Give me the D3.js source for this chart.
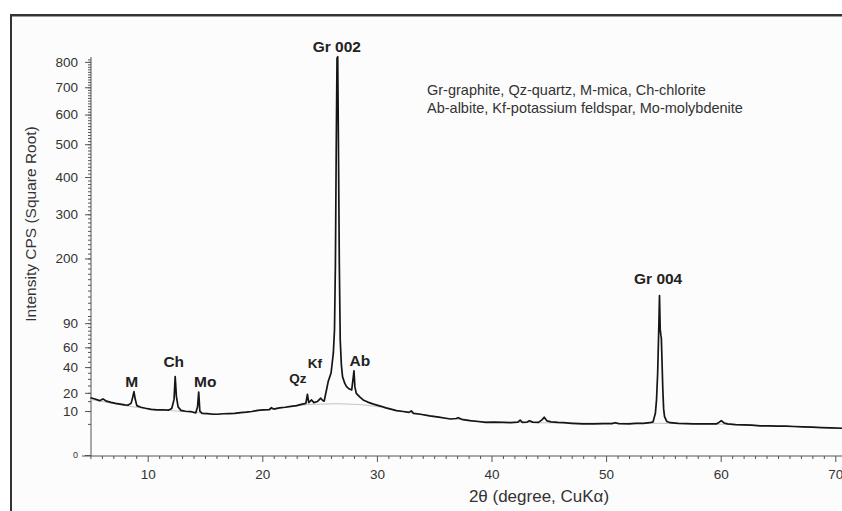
<!DOCTYPE html>
<html>
<head>
<meta charset="utf-8">
<script src="https://cdn.jsdelivr.net/npm/d3@7"></script>
<style>
body { margin: 0; background: #fff; overflow: hidden; }
svg { display: block; font-family: "Liberation Sans", Arial, sans-serif; }
</style>
</head>
<body>
<div id="chart"></div>
<script>
// XRD pattern: [2-theta, intensity CPS]
const pattern = [
    [5.0, 17.0], [5.4, 16.2], [5.8, 15.3], [6.1, 16.3], [6.4, 15.0], [6.8, 14.3],
    [7.2, 13.8], [7.6, 13.4], [8.0, 13.0], [8.3, 12.9], [8.55, 13.8], [8.7, 17.5],
    [8.8, 20.8], [8.9, 16.5], [9.05, 12.6], [9.4, 11.8], [9.8, 11.3], [10.3, 10.8],
    [10.8, 10.5], [11.3, 10.6], [11.8, 10.4], [12.1, 11.2], [12.3, 16], [12.4, 31.8],
    [12.5, 18], [12.65, 12], [12.9, 10.3], [13.3, 9.9], [13.8, 9.7], [14.2, 9.2],
    [14.35, 12], [14.45, 20.5], [14.55, 10], [14.75, 9.0], [15.2, 8.9], [15.7, 8.6],
    [16.1, 8.6], [16.6, 8.8], [17.1, 8.9], [17.6, 9.0], [18.1, 9.3], [18.6, 9.5],
    [19.1, 9.8], [19.6, 10.3], [20.1, 10.5], [20.6, 10.6], [20.8, 11.6], [21.0, 10.9],
    [21.5, 11.5], [22.0, 11.8], [22.5, 12.2], [23.0, 12.6], [23.4, 13.3], [23.8, 13.8],
    [23.94, 19.1], [24.05, 14.2], [24.3, 15.7], [24.5, 14.2], [24.8, 14.8], [25.1, 16.7],
    [25.25, 15.5], [25.4, 15.0], [25.6, 21.9], [25.75, 27.9], [26.0, 34.8], [26.2, 53.9],
    [26.3, 81], [26.38, 190], [26.45, 480], [26.52, 815], [26.58, 821], [26.65, 470],
    [26.72, 190], [26.8, 68.5], [26.9, 42], [27.0, 31.8], [27.2, 26.5], [27.35, 24.2],
    [27.6, 22.5], [27.8, 21.9], [27.92, 30], [28.0, 36.6], [28.08, 24], [28.2, 19.7],
    [28.5, 17.5], [28.8, 15.7], [29.2, 14.5], [29.7, 13.4], [30.3, 12.4], [30.8, 11.5],
    [31.3, 10.8], [31.7, 10.2], [32.3, 9.8], [32.8, 9.4], [33.0, 10.1], [33.2, 9.0],
    [33.8, 8.6], [34.6, 7.9], [35.4, 7.4], [36.0, 7.0], [36.4, 6.7], [36.9, 6.9],
    [37.1, 7.2], [37.4, 6.6], [38.1, 6.1], [38.8, 5.8], [39.5, 5.5], [40.2, 5.6],
    [41.0, 5.5], [41.7, 5.4], [42.3, 5.6], [42.5, 6.3], [42.7, 5.5], [43.1, 5.6],
    [43.3, 6.1], [43.6, 5.6], [44.1, 5.5], [44.4, 6.4], [44.6, 7.4], [44.85, 6.0],
    [45.2, 5.7], [45.8, 5.5], [46.3, 5.4], [47.0, 5.2], [48.0, 5.0], [48.9, 5.0],
    [49.8, 5.1], [50.5, 5.1], [50.8, 5.4], [51.1, 5.1], [52.0, 5.0], [52.6, 5.2],
    [53.25, 5.2], [53.8, 5.4], [54.1, 5.7], [54.3, 9], [54.4, 15.7], [54.5, 35],
    [54.6, 85], [54.66, 131.6], [54.72, 82], [54.78, 74], [54.82, 71], [54.88, 45],
    [54.95, 22], [55.02, 11], [55.1, 7.6], [55.3, 5.8], [55.6, 5.4], [56.3, 5.2],
    [57.0, 5.1], [57.6, 5.0], [58.3, 5.0], [59.0, 5.0], [59.6, 5.0], [59.85, 5.5],
    [60.05, 6.1], [60.3, 5.3], [60.6, 5.0], [61.3, 4.8], [62.0, 4.7], [62.7, 4.6],
    [63.45, 4.4], [64.2, 4.4], [65.0, 4.3], [65.7, 4.3], [66.4, 4.2], [67.2, 4.1],
    [68.0, 4.0], [68.8, 3.9], [69.6, 3.8], [70.6, 3.7]
];

// fitted background (thin grey line under the peaks)
const background = [
    [5.0, 16.0], [8.0, 12.6], [10.0, 11.0], [12.0, 10.2], [14.0, 9.4], [16.0, 8.7],
    [18.0, 9.2], [20.0, 10.4], [22.0, 11.8], [24.0, 13.2], [26.5, 13.6], [28.5, 13.2],
    [30.0, 12.2], [32.0, 10.0], [34.0, 8.5], [36.0, 7.0], [40.0, 5.6], [46.0, 5.3],
    [54.7, 5.2], [60.0, 4.9], [70.6, 3.7]
];

const yTickValues = [0, 10, 20, 40, 60, 90, 200, 300, 400, 500, 600, 700, 800];
const yMinorValues = d3.range(5, 100, 5).concat(d3.range(100, 811, 10));
const xTickValues = [10, 20, 30, 40, 50, 60, 70];
const xMinorValues = d3.range(5, 72, 1).filter(d => d % 10 !== 0);

const peakLabels = [
    { text: 'M', at: 8.6, level: 23.6, small: false },
    { text: 'Ch', at: 12.27, level: 39.7, small: false },
    { text: 'Mo', at: 15.02, level: 23.6, small: false },
    { text: 'Qz', at: 23.1, level: 26.9, small: true },
    { text: 'Kf', at: 24.58, level: 39.2, small: true },
    { text: 'Ab', at: 28.52, level: 41.1, small: false },
    { text: 'Gr 002', at: 26.5, level: 840, small: false },
    { text: 'Gr 004', at: 54.54, level: 152, small: false }
];

const legendLines = [
    'Gr-graphite, Qz-quartz, M-mica, Ch-chlorite',
    'Ab-albite, Kf-potassium feldspar, Mo-molybdenite'
];

// Layout
const width = 842, height = 511;

const svg = d3.select('#chart')
    .append('svg')
    .attr('width', width)
    .attr('height', height);

// Frame (runs off the right and bottom edges)
svg.append('rect')
    .attr('x', 11).attr('y', 15)
    .attr('width', 900).attr('height', 600)
    .attr('fill', '#fcfcfc')
    .attr('stroke', '#333')
    .attr('stroke-width', 2);
svg.append('line')
    .attr('x1', 12).attr('x2', 842)
    .attr('y1', 16.5).attr('y2', 16.5)
    .attr('stroke', '#999').attr('stroke-width', 1);

// Scales
const x = d3.scaleLinear().domain([5, 70]).range([90.4, 835.3]);
const y = d3.scaleSqrt().domain([0, 820]).range([455, 57]);

const axisColor = '#555';
const textColor = '#333';

// Y axis
const yAxisG = svg.append('g').attr('transform', 'translate(91,0)');
yAxisG.append('g')
    .call(d3.axisLeft(y).tickValues(yMinorValues).tickSize(3).tickFormat(''))
    .call(g => g.select('.domain').remove());
yAxisG.append('g')
    .call(d3.axisLeft(y).tickValues(yTickValues).tickSize(6).tickPadding(7).tickSizeOuter(0))
    .call(g => g.selectAll('text')
        .attr('fill', textColor)
        .style('font-size', d => d === 0 ? '9px' : '13.5px'));
yAxisG.selectAll('line, path').attr('stroke', axisColor);
yAxisG.select('.domain').attr('d', `M0,${y(820)}V456`);

// X axis
const xAxisG = svg.append('g').attr('transform', 'translate(0,456)');
xAxisG.append('g')
    .call(d3.axisBottom(x).tickValues(xMinorValues).tickSize(3).tickFormat(''))
    .call(g => g.select('.domain').remove());
xAxisG.append('g')
    .call(d3.axisBottom(x).tickValues(xTickValues).tickSize(6).tickPadding(7).tickSizeOuter(0))
    .call(g => g.selectAll('text')
        .attr('fill', textColor)
        .style('font-size', '13.5px'));
xAxisG.selectAll('line, path').attr('stroke', axisColor);
xAxisG.select('.domain').attr('d', `M82,0H${width + 20}`);

// Axis titles
svg.append('text')
    .attr('transform', 'translate(36,224) rotate(-90)')
    .attr('text-anchor', 'middle')
    .attr('fill', textColor)
    .style('font-size', '15.5px')
    .text('Intensity CPS (Square Root)');

svg.append('text')
    .attr('x', 539).attr('y', 502)
    .attr('text-anchor', 'middle')
    .attr('fill', textColor)
    .style('font-size', '17px')
    .text('2θ (degree, CuKα)');

// Background line then the pattern
const line = d3.line()
    .x(d => x(d[0]))
    .y(d => y(d[1]));

svg.append('path')
    .datum(background)
    .attr('d', line)
    .attr('fill', 'none')
    .attr('stroke', '#c4c4c4')
    .attr('stroke-width', 1);

svg.append('path')
    .datum(pattern)
    .attr('d', line)
    .attr('fill', 'none')
    .attr('stroke', '#151515')
    .attr('stroke-width', 1.7)
    .attr('stroke-linejoin', 'round');

// Peak labels
svg.append('g')
    .selectAll('text')
    .data(peakLabels)
    .join('text')
    .attr('x', d => x(d.at))
    .attr('y', d => y(d.level))
    .attr('text-anchor', 'middle')
    .attr('fill', '#222')
    .style('font-weight', 'bold')
    .style('font-size', d => d.small ? '13.5px' : '15.5px')
    .text(d => d.text);

// Legend text
svg.append('g')
    .selectAll('text')
    .data(legendLines)
    .join('text')
    .attr('x', 427)
    .attr('y', (d, i) => 95 + i * 18)
    .attr('fill', textColor)
    .style('font-size', '14.5px')
    .text(d => d);
</script>
</body>
</html>
